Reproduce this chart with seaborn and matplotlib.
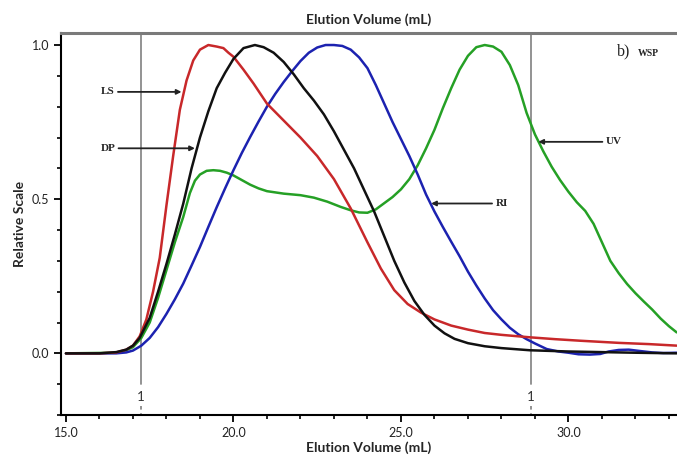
import matplotlib
matplotlib.use("Agg")
import matplotlib.pyplot as plt
import seaborn as sns
import pandas as pd
from matplotlib.ticker import MultipleLocator

# ---- data ----
ls_x = [15.0, 16.0, 16.5, 16.8, 17.0, 17.2, 17.4, 17.6, 17.8, 18.0, 18.2, 18.4, 18.6, 18.8, 19.0,
        19.25, 19.5, 19.7, 19.85, 20.0, 20.3, 20.6, 21.0, 21.5, 22.0, 22.5, 23.0, 23.5, 24.0,
        24.4, 24.8, 25.2, 25.6, 26.0, 26.5, 27.0, 27.5, 28.0, 28.85, 29.6, 30.34, 31.5, 32.4, 33.23]
ls_y = [0.0, 0.0, 0.003, 0.012, 0.025, 0.055, 0.11, 0.20, 0.31, 0.48, 0.64, 0.79, 0.885, 0.95, 0.985,
        1.0, 0.995, 0.99, 0.975, 0.962, 0.92, 0.875, 0.81, 0.755, 0.70, 0.64, 0.565, 0.47, 0.36,
        0.275, 0.205, 0.16, 0.132, 0.11, 0.09, 0.077, 0.066, 0.06, 0.052, 0.046, 0.041, 0.034, 0.03, 0.025]

dp_x = [15.0, 16.0, 16.5, 16.8, 17.0, 17.2, 17.5, 17.75, 18.0, 18.25, 18.5, 18.75, 19.0, 19.25, 19.5,
        19.75, 20.0, 20.3, 20.64, 20.9, 21.2, 21.5, 21.8, 22.1, 22.4, 22.7, 23.0, 23.3, 23.6, 23.9,
        24.2, 24.5, 24.8, 25.1, 25.4, 25.7, 26.0, 26.3, 26.6, 27.0, 27.5, 28.0, 28.85, 30.0, 31.0,
        32.0, 33.23]
dp_y = [0.0, 0.0, 0.004, 0.012, 0.025, 0.05, 0.115, 0.20, 0.29, 0.385, 0.485, 0.60, 0.70, 0.785, 0.86,
        0.91, 0.955, 0.99, 1.0, 0.993, 0.975, 0.945, 0.905, 0.86, 0.82, 0.775, 0.72, 0.66, 0.60, 0.53,
        0.46, 0.38, 0.30, 0.23, 0.17, 0.125, 0.09, 0.065, 0.047, 0.033, 0.023, 0.017, 0.01, 0.006, 0.004,
        0.002, 0.0]

ri_x = [15.0, 16.5, 16.8, 17.0, 17.25, 17.5, 17.75, 18.0, 18.25, 18.5, 18.75, 19.0, 19.25, 19.5, 19.75,
        20.0, 20.25, 20.5, 20.75, 21.0, 21.25, 21.5, 21.75, 22.0, 22.25, 22.5, 22.75, 23.0, 23.25,
        23.5, 23.75, 24.0, 24.25, 24.5, 24.75, 25.0, 25.25, 25.5, 25.75, 26.0, 26.25, 26.5, 26.75,
        27.0, 27.25, 27.5, 27.75, 28.0, 28.25, 28.5, 28.75, 29.0, 29.35, 29.7, 30.0, 30.3, 30.64,
        30.95, 31.2, 31.5, 31.8, 32.1, 32.5, 32.83, 33.23]
ri_y = [0.0, 0.0, 0.003, 0.009, 0.025, 0.05, 0.085, 0.128, 0.175, 0.226, 0.285, 0.345, 0.41, 0.474, 0.535,
        0.594, 0.65, 0.702, 0.752, 0.80, 0.842, 0.88, 0.915, 0.948, 0.975, 0.992, 1.0, 1.0, 0.997,
        0.985, 0.96, 0.925, 0.87, 0.81, 0.75, 0.695, 0.64, 0.58, 0.515, 0.46, 0.41, 0.362, 0.315,
        0.265, 0.22, 0.178, 0.14, 0.11, 0.083, 0.062, 0.046, 0.032, 0.014, 0.006, 0.002, -0.003, -0.004,
        -0.002, 0.006, 0.011, 0.012, 0.008, 0.003, 0.001, 0.002]

uv_x = [15.0, 16.5, 16.8, 17.0, 17.25, 17.5, 17.75, 18.0, 18.25, 18.5, 18.7, 18.85, 19.0, 19.2, 19.4,
        19.6, 19.8, 20.0, 20.25, 20.5, 20.75, 21.0, 21.5, 22.0, 22.4, 22.8, 23.2, 23.5, 23.75, 24.0,
        24.25, 24.5, 24.75, 25.0, 25.25, 25.5, 25.75, 26.0, 26.25, 26.5, 26.75, 27.0, 27.25, 27.5,
        27.75, 28.0, 28.25, 28.5, 28.75, 29.0, 29.25, 29.5, 29.75, 30.0, 30.25, 30.5, 30.75, 31.0,
        31.25, 31.5, 31.75, 32.0, 32.25, 32.5, 32.75, 33.0, 33.23]
uv_y = [0.0, 0.002, 0.01, 0.02, 0.05, 0.10, 0.18, 0.27, 0.36, 0.442, 0.52, 0.56, 0.58, 0.592, 0.594,
        0.592, 0.586, 0.577, 0.562, 0.547, 0.535, 0.526, 0.518, 0.513, 0.505, 0.492, 0.475, 0.464, 0.457,
        0.456, 0.467, 0.487, 0.507, 0.532, 0.565, 0.61, 0.665, 0.725, 0.795, 0.86, 0.92, 0.965, 0.993,
        1.0, 0.995, 0.978, 0.935, 0.87, 0.78, 0.71, 0.655, 0.605, 0.562, 0.524, 0.49, 0.462, 0.42, 0.36,
        0.30, 0.26, 0.225, 0.195, 0.168, 0.142, 0.113, 0.088, 0.068]

series_names = ["LS", "DP", "RI", "UV"]
series_colors = ["#c8282a", "#111111", "#1c22b0", "#25a025"]
xticks = [15.0, 20.0, 25.0, 30.0]
yticks = [0.0, 0.5, 1.0]
marker_lines = [17.24, 28.88]

sns.set_style("ticks")
plt.rcParams['font.family'] = ['Lato', 'DejaVu Sans']

fig = plt.figure(figsize=(6.77, 4.65), dpi=100)
ax = fig.add_axes([0.090, 0.1075, 0.91, 0.8222])

frames = []
for name, xs, ys in zip(series_names, [ls_x, dp_x, ri_x, uv_x], [ls_y, dp_y, ri_y, uv_y]):
    frames.append(pd.DataFrame({"x": xs, "y": ys, "det": name}))
df = pd.concat(frames, ignore_index=True)

order = ["UV", "RI", "LS", "DP"]
for name in order:
    sub = df[df["det"] == name]
    sns.lineplot(data=sub, x="x", y="y", ax=ax, color=series_colors[series_names.index(name)],
                 lw=1.8, sort=False, estimator=None, legend=False)

ax.set_xlim(14.85, 33.24)
ax.set_ylim(-0.2, 1.04)

# vertical marker lines
for v in marker_lines:
    ax.plot([v, v], [-0.1, 1.04], color="#8a8a8a", lw=1.3, zorder=0.5)
    ax.plot([v, v], [-0.17, -0.2], color="#8a8a8a", lw=1.3, ls=(0, (2, 2)), zorder=0.5)
    ax.text(v, -0.14, "1", ha="center", va="center", fontsize=9.5, color="#333333")

ax.set_xticks(xticks)
ax.set_xticklabels([f"{t:.1f}" for t in xticks])
ax.set_yticks(yticks)
ax.set_yticklabels([f"{t:.1f}" for t in yticks])
ax.xaxis.set_minor_locator(MultipleLocator(1.0))
ax.yaxis.set_minor_locator(MultipleLocator(0.1))
ax.tick_params(axis="both", which="major", length=5, width=1.3, labelsize=9, color="black",
               labelcolor="#222222", direction="out")
ax.tick_params(axis="both", which="minor", length=3, width=1.2, color="black", direction="out")

for s in ["left", "bottom"]:
    ax.spines[s].set_color("black")
    ax.spines[s].set_linewidth(1.5)
ax.spines["top"].set_color("#7a7a7a")
ax.spines["top"].set_linewidth(2.2)
ax.spines["right"].set_visible(False)

ax.set_xlabel("Elution Volume (mL)", fontsize=10, fontweight="bold", labelpad=2)
ax.set_ylabel("Relative Scale", fontsize=10, fontweight="bold", labelpad=4)
ax.set_title("Elution Volume (mL)", fontsize=10, fontweight="bold", pad=6)

# annotations
arrow = dict(arrowstyle="-|>", color="#222222", lw=1.3, mutation_scale=7, shrinkA=0, shrinkB=0)
serif = ["Liberation Serif", "DejaVu Serif"]
ax.annotate("LS", xy=(18.45, 0.848), xytext=(16.25, 0.848), fontsize=8, fontweight="bold",
            family=serif, ha="center", va="center", arrowprops=dict(arrow, relpos=(1.0, 0.5)))
ax.annotate("DP", xy=(18.85, 0.665), xytext=(16.25, 0.665), fontsize=8, fontweight="bold",
            family=serif, ha="center", va="center", arrowprops=dict(arrow, relpos=(1.0, 0.5)))
ax.annotate("RI", xy=(25.9, 0.486), xytext=(28.0, 0.486), fontsize=8, fontweight="bold",
            family=serif, ha="center", va="center", arrowprops=dict(arrow, relpos=(0.0, 0.5)))
ax.annotate("UV", xy=(29.1, 0.686), xytext=(31.35, 0.686), fontsize=8, fontweight="bold",
            family=serif, ha="center", va="center", arrowprops=dict(arrow, relpos=(0.0, 0.5)))

ax.text(31.45, 0.965, "b)", fontsize=11.5, family=serif, ha="left", va="baseline", color="#222222")
ax.text(32.08, 0.965, "WSP", fontsize=7, family=serif, fontweight="bold", ha="left", va="baseline",
        color="#222222")

fig.savefig("out.png", dpi=100)
